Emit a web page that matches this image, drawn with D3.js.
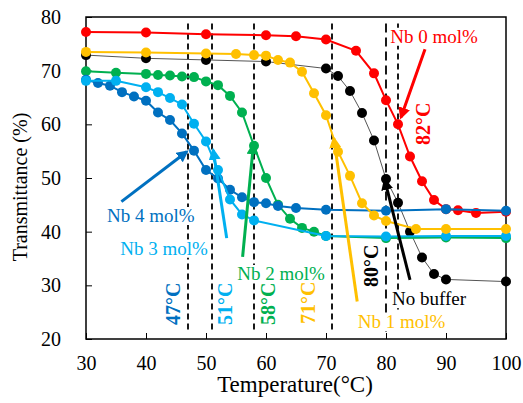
<!DOCTYPE html>
<html>
<head>
<meta charset="utf-8">
<script src="https://cdn.jsdelivr.net/npm/d3@7"></script>
<style>
  body { margin: 0; background: #fff; }
  text { font-family: "Liberation Serif", "Times New Roman", serif; }
</style>
</head>
<body>
<div id="chart"></div>
<script>
// series data: temperature (°C) and transmittance (%)
const nb0T = [30, 40, 50, 60, 65, 70, 75, 78, 80, 82, 84, 86, 88, 90, 92, 95, 100];
const nb0V = [77.2, 77.1, 76.8, 76.6, 76.4, 75.8, 73.7, 69.5, 64.5, 60.0, 54.0, 49.4, 45.9, 44.2, 44.0, 43.5, 43.7];

const noBufT = [30, 40, 50, 60, 70, 72, 74, 76, 78, 80, 82, 84, 86, 88, 90, 100];
const noBufV = [72.9, 72.3, 72.0, 71.7, 70.4, 69.0, 66.2, 62.1, 57.0, 49.8, 45.4, 40.0, 35.2, 32.1, 31.1, 30.7];

const nb1T = [30, 40, 50, 55, 58, 60, 62, 64, 66, 68, 70, 72, 74, 76, 78, 80, 85, 90, 100];
const nb1V = [73.5, 73.4, 73.2, 73.1, 72.9, 72.8, 72.0, 71.5, 69.8, 65.8, 61.7, 54.9, 50.4, 45.3, 43.0, 42.0, 40.5, 40.5, 40.5];

const nb2T = [30, 35, 40, 42, 44, 46, 48, 50, 52, 54, 56, 58, 60, 62, 64, 66, 68, 70, 80, 90, 100];
const nb2V = [69.9, 69.6, 69.4, 69.2, 69.1, 68.9, 68.8, 68.0, 67.3, 65.3, 62.2, 56.0, 50.0, 45.0, 42.4, 40.7, 40.0, 39.2, 38.8, 38.9, 38.8];

const nb3T = [30, 35, 40, 42, 44, 46, 48, 50, 52, 54, 56, 58, 70, 80, 90, 100];
const nb3V = [68.1, 68.1, 66.9, 66.0, 64.9, 63.7, 60.1, 56.8, 51.5, 46.0, 43.2, 42.1, 39.2, 39.1, 39.2, 39.2];

const nb4T = [30, 32, 34, 36, 38, 40, 42, 44, 46, 48, 50, 52, 54, 56, 58, 60, 62, 65, 70, 80, 90, 100];
const nb4V = [68.3, 67.7, 67.2, 66.0, 65.2, 64.4, 62.2, 60.8, 58.3, 55.1, 51.5, 49.9, 47.8, 46.4, 45.5, 45.3, 44.8, 44.4, 44.1, 43.9, 44.2, 43.9];

// transition temperatures (dashed lines)
const transT = [47, 51, 58, 71, 80, 82];

const xTicks = [30, 40, 50, 60, 70, 80, 90, 100];
const yTicks = [20, 30, 40, 50, 60, 70, 80];

const width = 523, height = 403;
const margin = { top: 17, right: 17, bottom: 64, left: 86 };

const svg = d3.select("#chart").append("svg")
    .attr("width", width)
    .attr("height", height);

const x = d3.scaleLinear().domain([30, 100]).range([margin.left, width - margin.right]);
const y = d3.scaleLinear().domain([20, 80]).range([height - margin.bottom, margin.top]);

// arrow heads
const arrowColors = { red: "#FF0000", blue: "#0070C0", cyan: "#00B0F0", green: "#00B050", yellow: "#FFC000", black: "#000000" };
const defs = svg.append("defs");
Object.entries(arrowColors).forEach(([k, c]) => {
    defs.append("marker")
        .attr("id", "arrow-" + k)
        .attr("viewBox", "0 0 10 10")
        .attr("refX", 8).attr("refY", 5)
        .attr("markerWidth", 4).attr("markerHeight", 4)
        .attr("markerUnits", "strokeWidth")
        .attr("orient", "auto")
        .append("path")
        .attr("d", "M0,0 L10,5 L0,10 z")
        .attr("fill", c);
});

// dashed lines
svg.append("g").selectAll("line")
    .data(transT)
    .enter().append("line")
    .attr("x1", d => x(d)).attr("x2", d => x(d))
    .attr("y1", y(78.8))
    .attr("y2", y(21.3))
    .attr("stroke", "#000")
    .attr("stroke-width", 1.8)
    .attr("stroke-dasharray", d => d === 80 ? "9,5" : "6,4");

// axes
const xAxis = d3.axisBottom(x).tickValues(xTicks).tickSize(-6).tickPadding(17);
const yAxis = d3.axisLeft(y).tickValues(yTicks).tickSize(-6).tickPadding(25);

const gx = svg.append("g")
    .attr("transform", `translate(0,${height - margin.bottom})`)
    .call(xAxis);
const gy = svg.append("g")
    .attr("transform", `translate(${margin.left},0)`)
    .call(yAxis);

[gx, gy].forEach(g => {
    g.select(".domain").remove();
    g.selectAll("line").attr("stroke", "#000").attr("stroke-width", 1);
    g.selectAll("text")
        .attr("fill", "#000")
        .style("font-family", "'Liberation Serif', serif")
        .style("font-size", "20px");
});

// plot frame
svg.append("rect")
    .attr("x", margin.left).attr("y", margin.top)
    .attr("width", width - margin.left - margin.right)
    .attr("height", height - margin.top - margin.bottom)
    .attr("fill", "none")
    .attr("stroke", "#000")
    .attr("stroke-width", 1.5);

// axis titles
svg.append("text")
    .attr("x", 295)
    .attr("y", 392)
    .attr("text-anchor", "middle")
    .style("font-size", "23px")
    .text("Temperature(°C)");

svg.append("text")
    .attr("transform", `translate(27,187) rotate(-90)`)
    .attr("text-anchor", "middle")
    .style("font-size", "20px")
    .text("Transmittance (%)");

// series
const series = [
    { name: "No buffer", t: noBufT, v: noBufV, color: "#000000", line: "#555555", lw: 1 },
    { name: "Nb 0", t: nb0T, v: nb0V, color: "#FF0000", line: "#FF0000", lw: 2 },
    { name: "Nb 2", t: nb2T, v: nb2V, color: "#00B050", line: "#00B050", lw: 2 },
    { name: "Nb 4", t: nb4T, v: nb4V, color: "#0070C0", line: "#0070C0", lw: 2 },
    { name: "Nb 3", t: nb3T, v: nb3V, color: "#00B0F0", line: "#00B0F0", lw: 2 },
    { name: "Nb 1", t: nb1T, v: nb1V, color: "#FFC000", line: "#FFC000", lw: 2 }
];

const line = d3.line().x(d => x(d[0])).y(d => y(d[1]));

series.forEach(s => {
    const pts = s.t.map((t, i) => [t, s.v[i]]);
    const g = svg.append("g");
    g.append("path")
        .datum(pts)
        .attr("d", line)
        .attr("fill", "none")
        .attr("stroke", s.line)
        .attr("stroke-width", s.lw);
    g.selectAll("circle")
        .data(pts)
        .enter().append("circle")
        .attr("cx", d => x(d[0]))
        .attr("cy", d => y(d[1]))
        .attr("r", 5)
        .attr("fill", s.color);
});

// series labels [T, V, text, color]  (white boxes hide the dashed lines behind)
const labels = [
    [80.7, 75.2, "Nb 0 mol%", "#FF0000"],
    [33.5, 41.8, "Nb 4 mol%", "#0070C0"],
    [35.7, 35.7, "Nb 3 mol%", "#00B0F0"],
    [55.2, 31.0, "Nb 2 mol%", "#00B050"],
    [75.3, 22.05, "Nb 1 mol%", "#FFC000"],
    [81.0, 26.3, "No buffer", "#000000"]
];

const labelG = svg.append("g");
labels.forEach(d => {
    const t = labelG.append("text")
        .attr("x", x(d[0]))
        .attr("y", y(d[1]))
        .attr("fill", d[3])
        .style("font-size", "19px")
        .text(d[2]);
    const b = t.node().getBBox();
    labelG.insert("rect", () => t.node())
        .attr("x", b.x - 1).attr("y", b.y + 2)
        .attr("width", b.width + 2).attr("height", b.height - 3)
        .attr("fill", "#fff");
});

// annotations: arrows [fromT, fromV, toT, toV]
const arrows = [
    { k: "red", p: [86.5, 74.0, 82.5, 61.3] },
    { k: "blue", p: [35.9, 45.6, 46.8, 54.9] },
    { k: "cyan", p: [53.45, 38.8, 51.2, 55.2] },
    { k: "green", p: [56.1, 35.3, 57.9, 56.2] },
    { k: "yellow", p: [75.2, 27.0, 71.3, 57.4] },
    { k: "black", p: [84.0, 31.0, 79.8, 49.6] }
];

svg.append("g").selectAll("line")
    .data(arrows)
    .enter().append("line")
    .attr("x1", d => x(d.p[0])).attr("y1", d => y(d.p[1]))
    .attr("x2", d => x(d.p[2])).attr("y2", d => y(d.p[3]))
    .attr("stroke", d => arrowColors[d.k])
    .attr("stroke-width", 3)
    .attr("marker-end", d => `url(#arrow-${d.k})`);

// rotated temperature labels
const tempLabels = [
    [45.67, 22.6, "47°C", "#0070C0"],
    [54.33, 22.6, "51°C", "#00B0F0"],
    [61.5, 22.6, "58°C", "#00B050"],
    [68.17, 22.8, "71°C", "#FFC000"],
    [78.67, 29.7, "80°C", "#000000"],
    [87.33, 56.15, "82°C", "#FF0000"]
];

svg.append("g").selectAll("text")
    .data(tempLabels)
    .enter().append("text")
    .attr("transform", d => `translate(${x(d[0])},${y(d[1])}) rotate(-90)`)
    .attr("fill", d => d[3])
    .style("font-size", "20px")
    .style("font-weight", "bold")
    .text(d => d[2]);
</script>
</body>
</html>
